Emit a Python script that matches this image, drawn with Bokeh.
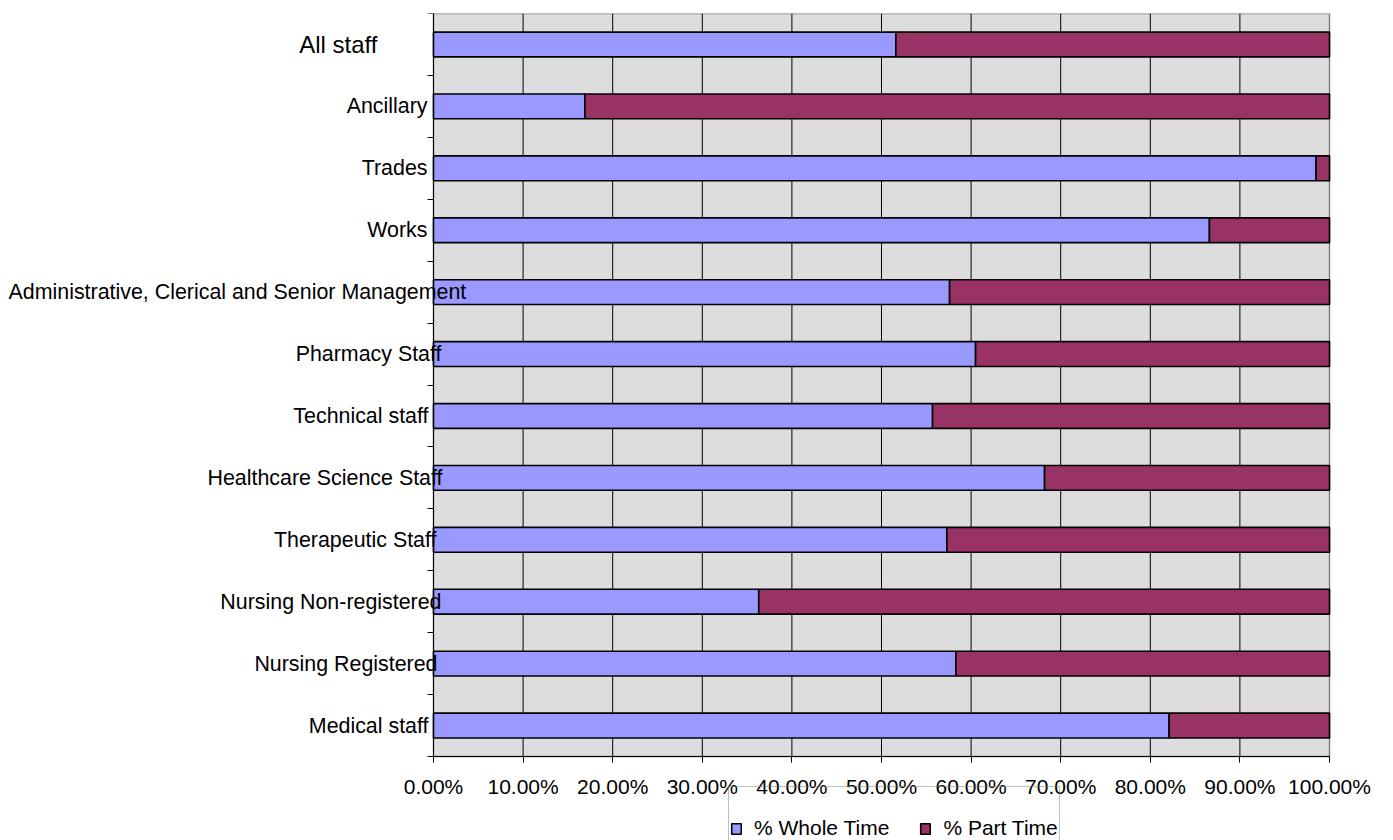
from bokeh.plotting import figure
from bokeh.models import (Range1d, FixedTicker, NumeralTickFormatter, Label, Legend, LegendItem,
                          CustomJSTickFormatter)
from bokeh.embed import file_html
from bokeh.resources import INLINE

# Categories bottom -> top
categories = ["Medical staff", "Nursing Registered", "Nursing Non-registered",
              "Therapeutic Staff", "Healthcare Science Staff", "Technical staff",
              "Pharmacy Staff", "Administrative, Clerical and Senior Management",
              "Works", "Trades", "Ancillary", "All staff"]
whole_time = [0.821, 0.583, 0.363, 0.573, 0.682, 0.557, 0.605, 0.576, 0.866, 0.985, 0.169, 0.516]
part_time = [0.179, 0.417, 0.637, 0.427, 0.318, 0.443, 0.395, 0.424, 0.134, 0.015, 0.831, 0.484]
x_ticks = [0.0, 0.1, 0.2, 0.3, 0.4, 0.5, 0.6, 0.7, 0.8, 0.9, 1.0]

# label placement (pixel offsets from the axis line, styling only)
label_offsets = [-5, 4, 8, 3, 9, -5, 8, -425, -6, -6, -6, -56]
label_aligns = ["right"] * 7 + ["left"] + ["right"] * 4
label_sizes = ["21.4px"] * 11 + ["24px"]

FONT = "Liberation Sans"
BLUE = "#9999FF"
MAROON = "#993366"

W, H = 1393, 840
LEFT_PX, RIGHT_PX, TOP_PX, BOTTOM_PX = 433, 1329, 13, 756   # plot-area edges in pixels
n = len(categories)
x_px_per_unit = RIGHT_PX - LEFT_PX
y_px_per_unit = (BOTTOM_PX - TOP_PX) / n
x_start = -LEFT_PX / x_px_per_unit
x_end = 1 + (W - RIGHT_PX) / x_px_per_unit
y_start = -(H - BOTTOM_PX) / y_px_per_unit

y_pos = [i + 0.5 for i in range(n)]
source = dict(y=y_pos, whole=whole_time, part=part_time)

p = figure(width=W, height=H, x_range=Range1d(x_start, x_end), y_range=Range1d(y_start, n),
           output_backend="svg", toolbar_location=None, title=None,
           min_border_left=0, min_border_right=0, min_border_top=TOP_PX,
           min_border_bottom=0)

p.background_fill_color = "white"
p.border_fill_color = "white"
p.outline_line_color = None

# plot area background with grey top/right border
p.quad(left=[x_ticks[0]], right=[x_ticks[-1]], bottom=[0], top=[n],
       fill_color="#DDDDDD", line_color="#808080", line_width=1.5)

# vertical gridlines
p.segment(x0=x_ticks[:-1], y0=[0] * (len(x_ticks) - 1), x1=x_ticks[:-1], y1=[n] * (len(x_ticks) - 1),
          line_color="black", line_width=1)

renderers = p.hbar_stack(["whole", "part"], y="y", height=0.4, color=[BLUE, MAROON],
                         line_color="black", line_width=1.6, source=source)

p.xgrid.visible = False
p.ygrid.visible = False

# x axis
p.xaxis.fixed_location = 0
p.xaxis.bounds = (x_ticks[0], x_ticks[-1])
p.xaxis.ticker = FixedTicker(ticks=x_ticks)
p.xaxis.formatter = NumeralTickFormatter(format="0.00%")
p.xaxis.major_label_text_font = FONT
p.xaxis.major_label_text_font_size = "21px"
p.xaxis.major_label_text_color = "black"
p.xaxis.major_tick_out = 6
p.xaxis.major_tick_in = 0
p.xaxis.minor_tick_out = 0
p.xaxis.minor_tick_in = 0
p.xaxis.axis_line_color = "black"
p.xaxis.major_tick_line_color = "black"
p.xaxis.major_label_standoff = 12

# y axis (ticks at category boundaries, labels drawn separately)
p.yaxis.fixed_location = 0
p.yaxis.bounds = (0, n)
p.yaxis.ticker = FixedTicker(ticks=list(range(n + 1)))
p.yaxis.formatter = CustomJSTickFormatter(code="return ''")
p.yaxis.major_tick_out = 6
p.yaxis.major_tick_in = 0
p.yaxis.minor_tick_out = 0
p.yaxis.minor_tick_in = 0
p.yaxis.axis_line_color = "black"
p.yaxis.major_tick_line_color = "black"

for cat, yy, off, al, sz in zip(categories, y_pos, label_offsets, label_aligns, label_sizes):
    p.add_layout(Label(x=0, y=yy, x_offset=off, text=cat, text_align=al,
                       text_baseline="middle", text_font=FONT, text_font_size=sz,
                       text_color="black"))

legend = Legend(items=[LegendItem(label="% Whole Time", renderers=[renderers[0]]),
                       LegendItem(label="% Part Time", renderers=[renderers[1]])],
                orientation="horizontal", location=(728, -30))
legend.label_text_font = FONT
legend.label_text_font_size = "21px"
legend.label_text_color = "black"
legend.glyph_width = 12
legend.glyph_height = 13
legend.label_standoff = 12
legend.spacing = 30
legend.padding = 1
legend.margin = 0
legend.label_height = 80
legend.border_line_color = "#808080"
legend.border_line_width = 1.5
legend.background_fill_color = None
p.add_layout(legend)

open("out.html", "w").write(file_html(p, INLINE))
